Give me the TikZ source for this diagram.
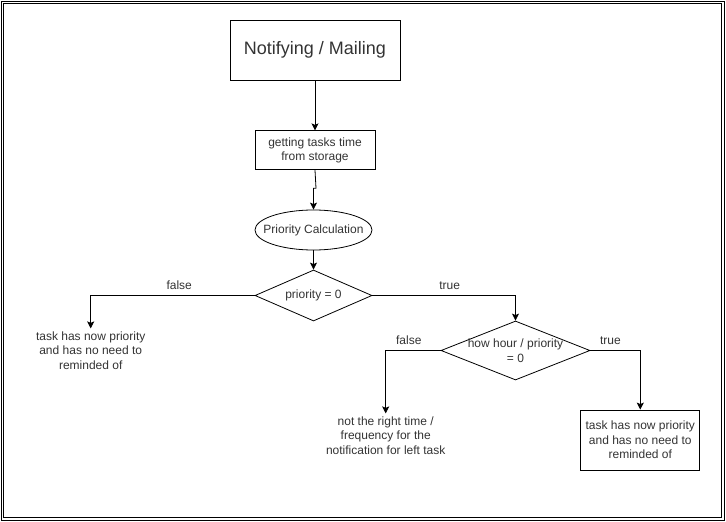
\documentclass[tikz,border=0pt]{standalone}
\usepackage{fontspec}
\setmainfont{Liberation Sans}
\usetikzlibrary{shapes.geometric,arrows.meta}

\begin{document}
\begin{tikzpicture}[x=1pt, y=-1pt,
    font=\fontsize{12}{14.5}\selectfont, text=black!80,
    process/.style ={rectangle, draw, thick, align=center, inner xsep=2pt},
    decision/.style ={diamond, draw, thick, align=center, inner sep=0pt, aspect=2.3},
    outcome/.style ={align=center, inner sep=3pt},
    flow/.style ={thick, -{Stealth[length=7pt,width=7pt,inset=1.5pt]}},
    answer/.style ={above=4pt, inner sep=1pt},
    frame/.style ={line width=1pt}]
   \useasboundingbox (0,0) rectangle (726,522);
   \draw[frame] (1.5,1.5) rectangle (724.5,520.5);
   \draw[frame] (3.8,3.8) rectangle (721.8,517);
   \node[process, minimum width=170pt, minimum height=60pt, font=\fontsize{18}{22}\selectfont] (notify) at (315,50) {Notifying / Mailing};
   \node[process, minimum width=120pt, minimum height=39pt] (gettime) at (315,150.3) {getting tasks time\\from storage};
   \node[ellipse, draw, thick, minimum width=117pt, minimum height=40pt, inner xsep=-10pt, inner ysep=0pt] (calc) at (313.5,230) {Priority Calculation};
   \node[decision, minimum width=117pt, minimum height=51pt] (prio) at (313.5,295.5) {priority = 0};
   \node[outcome] (nowprio) at (90.7,350.5) {task has now priority\\and has no need to\\reminded of};
   \node[decision, minimum width=149pt, minimum height=59pt, inner xsep=-25pt] (hour) at (515.5,350.5) {how hour / priority\\= 0};
   \node[outcome] (wrongtime) at (385.7,435.5) {not the right time /\\frequency for the\\notification for left task};
   \node[process, minimum width=119pt, minimum height=60pt] (notneeded) at (640.3,440) {task has now priority\\and has no need to\\reminded of};
   \draw[flow] (notify) to (gettime);
   \draw[flow] (gettime.south) -- ++(1,18) -| (calc.north);
   \draw[flow] (calc) to (prio);
   \draw[flow] (prio.west) -| node[answer, pos=0.23] {false} (nowprio.north);
   \draw[flow] (prio.east) -| node[answer, pos=0.27] {true} (hour.north);
   \draw[flow] (hour.west) -| node[answer, pos=0.29] {false} (wrongtime.north);
   \draw[flow] (hour.east) -| node[answer, pos=0.2] {true} (notneeded.north);
 \end{tikzpicture}
\end{document}
